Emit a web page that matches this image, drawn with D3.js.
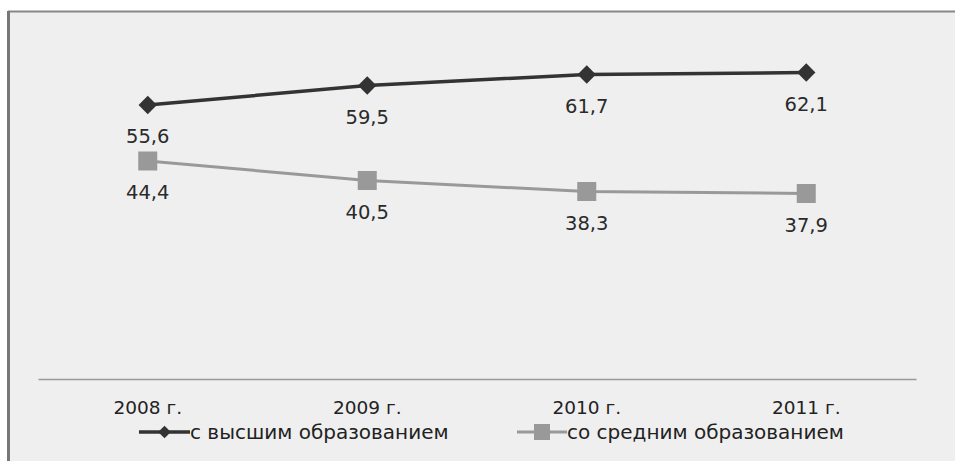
<!DOCTYPE html>
<html><head><meta charset="utf-8">
<script src="https://cdn.jsdelivr.net/npm/d3@7"></script>
<style>body{margin:0;background:#fff}svg{display:block}</style>
</head><body>
<svg id="c" width="955" height="461"></svg>
<script>
const categories = ["2008 г.", "2009 г.", "2010 г.", "2011 г."];
const higherEdu = [55.6, 59.5, 61.7, 62.1];
const secondaryEdu = [44.4, 40.5, 38.3, 37.9];
const seriesNames = ["с высшим образованием", "со средним образованием"];
const valueLabels = [["55,6","59,5","61,7","62,1"],["44,4","40,5","38,3","37,9"]];

const svg = d3.select("#c");
const font = "'DejaVu Sans', sans-serif";
// background frame
svg.append("rect").attr("x", 8).attr("y", 11).attr("width", 947).attr("height", 450).attr("fill", "#efefef");
svg.append("line").attr("x1", 8).attr("x2", 955).attr("y1", 11.5).attr("y2", 11.5).attr("stroke", "#888").attr("stroke-width", 2);
svg.append("line").attr("x1", 8.5).attr("x2", 8.5).attr("y1", 11).attr("y2", 461).attr("stroke", "#777").attr("stroke-width", 3);

const x = d3.scaleBand().domain(categories).range([38, 916]);
const y = d3.scaleLinear().domain([0, 70]).range([383, 33]);
const cx = c => x(c) + x.bandwidth() / 2;

// axis
const ax = svg.append("g").attr("transform", "translate(0,379)")
  .call(d3.axisBottom(x).tickSize(0).tickPadding(22));
ax.select(".domain").attr("stroke", "#999").attr("stroke-width", 1.5);
ax.selectAll("text").attr("font-family", font).attr("font-size", 18.5).attr("fill", "#222");

const series = [
  {vals: higherEdu, color: "#333", width: 3.5, shape: "diamond"},
  {vals: secondaryEdu, color: "#999", width: 3, shape: "square"}
];
const line = d3.line().x((d, i) => cx(categories[i])).y(d => y(d));
series.forEach((s, si) => {
  svg.append("path").datum(s.vals).attr("d", line).attr("fill", "none")
    .attr("stroke", s.color).attr("stroke-width", s.width);
  const g = svg.append("g");
  s.vals.forEach((v, i) => {
    const px = cx(categories[i]), py = y(v);
    if (s.shape === "diamond") {
      g.append("rect").attr("x", px - 6.5).attr("y", py - 6.5).attr("width", 13).attr("height", 13)
        .attr("transform", `rotate(45,${px},${py})`).attr("fill", s.color);
    } else {
      g.append("rect").attr("x", px - 9.5).attr("y", py - 9.5).attr("width", 19).attr("height", 19).attr("fill", s.color);
    }
    svg.append("text").attr("x", px).attr("y", py + 38).attr("text-anchor", "middle")
      .attr("font-family", font).attr("font-size", 19.5).attr("fill", "#2a2a2a").text(valueLabels[si][i]);
  });
});

// legend
const leg = [{x1: 139, x2: 190, tx: 190}, {x1: 517, x2: 567, tx: 567}];
leg.forEach((l, i) => {
  const s = series[i];
  svg.append("line").attr("x1", l.x1).attr("x2", l.x2).attr("y1", 432).attr("y2", 432)
    .attr("stroke", s.color).attr("stroke-width", s.width);
  const mx = (l.x1 + l.x2) / 2;
  if (s.shape === "diamond") {
    svg.append("rect").attr("x", mx - 4.5).attr("y", 432 - 4.5).attr("width", 9).attr("height", 9)
      .attr("transform", `rotate(45,${mx},432)`).attr("fill", s.color);
  } else {
    svg.append("rect").attr("x", mx - 8).attr("y", 424).attr("width", 16).attr("height", 16).attr("fill", s.color);
  }
  svg.append("text").attr("x", l.tx).attr("y", 439).attr("font-family", font).attr("font-size", 20)
    .attr("fill", "#222").text(seriesNames[i]);
});
</script>
</body></html>
